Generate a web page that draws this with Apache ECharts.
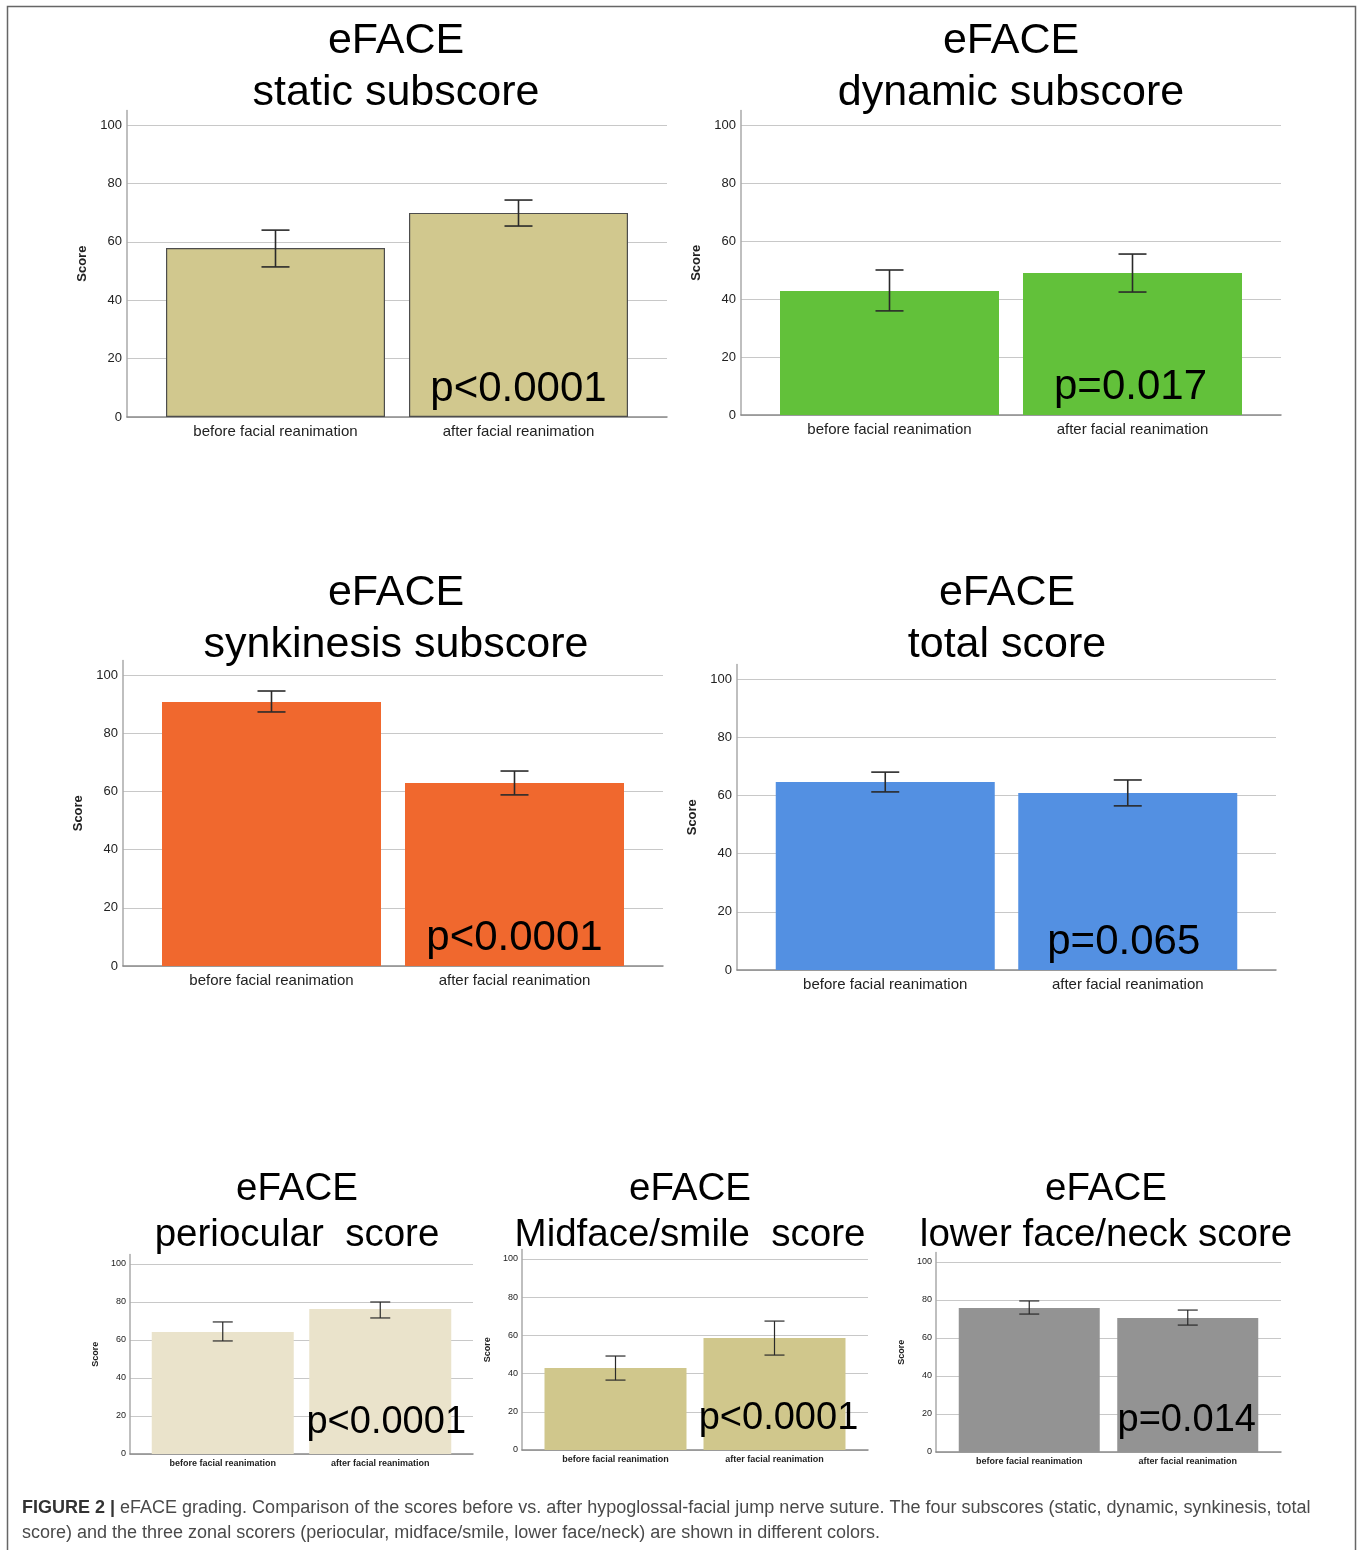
<!DOCTYPE html>
<html>
<head>
<meta charset="utf-8">
<script src="https://cdn.jsdelivr.net/npm/echarts@6/dist/echarts.min.js"></script>
<style>
html,body{margin:0;padding:0;background:#fff;}
#chart{width:1357px;height:1550px;}
</style>
</head>
<body>
<div id="chart"></div>
<script>
// ---------- data ----------
const categories = ['before facial reanimation', 'after facial reanimation'];
const yTicks = [0, 20, 40, 60, 80, 100];

const panelTitles = [
  ['eFACE', 'static subscore'],
  ['eFACE', 'dynamic subscore'],
  ['eFACE', 'synkinesis subscore'],
  ['eFACE', 'total score'],
  ['eFACE', 'periocular  score'],
  ['eFACE', 'Midface/smile  score'],
  ['eFACE', 'lower face/neck score']
];
const pValues = ['p<0.0001', 'p=0.017', 'p<0.0001', 'p=0.065', 'p<0.0001', 'p<0.0001', 'p=0.014'];

// mean score [before, after]
const staticMean = [57.9, 69.9];
const dynamicMean = [42.8, 49.0];
const synkinesisMean = [90.7, 62.9];
const totalMean = [64.6, 60.8];
const periocularMean = [64.2, 76.3];
const midfaceMean = [42.9, 58.6];
const lowerMean = [75.8, 70.5];

// error bar [low, high] per category
const staticErr = [[51.4, 64.0], [65.4, 74.3]];
const dynamicErr = [[35.9, 50.0], [42.4, 55.5]];
const synkinesisErr = [[87.3, 94.5], [58.8, 67.0]];
const totalErr = [[61.2, 68.0], [56.4, 65.3]];
const periocularErr = [[59.5, 69.5], [71.6, 80.0]];
const midfaceErr = [[36.6, 49.2], [49.7, 67.5]];
const lowerErr = [[72.6, 79.5], [66.8, 74.7]];

const means = [staticMean, dynamicMean, synkinesisMean, totalMean, periocularMean, midfaceMean, lowerMean];
const errs = [staticErr, dynamicErr, synkinesisErr, totalErr, periocularErr, midfaceErr, lowerErr];

// ---------- layout / style ----------
const colors = ['#D1C88E', '#62C13A', '#F0682E', '#5390E2', '#EAE3CB', '#D0C78C', '#939393'];
const borders = [true, false, false, false, false, false, false];
const geo = [
  {l:127, r:667, y0:417, y100:125, bw:219, off:13.5, small:false, tx:396, ty:41.5, px:0},
  {l:741, r:1281, y0:415, y100:125, bw:219, off:13.5, small:false, tx:1011, ty:41.5, px:-2},
  {l:123, r:663, y0:966, y100:675, bw:219, off:13.5, small:false, tx:396, ty:593.5, px:0},
  {l:737, r:1276, y0:970, y100:679, bw:219, off:13.5, small:false, tx:1007, ty:593.5, px:-4},
  {l:130, r:473, y0:1454, y100:1264, bw:142, off:7, small:true, tx:297, ty:1189, px:6},
  {l:522, r:868, y0:1450, y100:1259, bw:142, off:7, small:true, tx:690, ty:1189, px:4},
  {l:936, r:1281, y0:1452, y100:1262, bw:141, off:7, small:true, tx:1106, ty:1189, px:-1}
];
const W = 1357, H = 1550;
const FONT = '"Liberation Sans", Arial, Helvetica, sans-serif';

const grids = [], xAxes = [], yAxes = [], series = [], titles = [];

geo.forEach((g, i) => {
  const unit = (g.y0 - g.y100) / 100;
  const top = g.y0 - 105 * unit;
  grids.push({left: g.l, width: g.r - g.l, top: top, height: g.y0 - top, containLabel: false});
  const band = (g.r - g.l) / 2;
  const small = g.small;
  const xfs = small ? 9 : 15;
  const xw = small ? 'bold' : 'normal';
  xAxes.push({
    type: 'category', gridIndex: i, data: categories,
    axisLine: {lineStyle: {color: '#8a8a8a', width: 1.5}},
    axisTick: {show: false},
    axisLabel: {
      color: '#222', fontFamily: FONT, fontSize: xfs, margin: small ? 5 : 7, fontWeight: xw,
      formatter: (v, idx) => (idx === 0 ? '{b|' + v + '}' : '{a|' + v + '}'),
      rich: {
        b: {padding: [0, 0, 0, 2 * g.off], fontSize: xfs, fontFamily: FONT, color: '#222', fontWeight: xw},
        a: {padding: [0, 2 * g.off, 0, 0], fontSize: xfs, fontFamily: FONT, color: '#222', fontWeight: xw}
      }
    }
  });
  yAxes.push({
    type: 'value', gridIndex: i, min: 0, max: 105, interval: 20,
    name: 'Score', nameLocation: 'middle', nameRotate: 90,
    nameGap: small ? 30 : 38,
    nameTextStyle: {fontFamily: FONT, fontWeight: 'bold', fontSize: small ? 9 : 13, color: '#222'},
    axisLine: {show: true, lineStyle: {color: '#aaa', width: 1.5}},
    axisTick: {show: false},
    axisLabel: {color: '#222', fontFamily: FONT, fontSize: small ? 9 : 13, margin: small ? 4 : 5,
      showMaxLabel: false,
      formatter: v => (yTicks.indexOf(v) >= 0 ? String(v) : '')},
    splitLine: {show: true, showMaxLine: false, lineStyle: {color: '#c8c8c8', width: 1.2}}
  });
  const m = means[i];
  const bw = g.bw;
  const gapPct = ((2 * g.off - bw) / bw * 100).toFixed(2) + '%';
  const itemStyle = {color: colors[i]};
  if (borders[i]) { itemStyle.borderColor = '#4d4d4d'; itemStyle.borderWidth = 1.2; }
  const pfs = small ? 38 : 42;
  series.push({
    type: 'bar', xAxisIndex: i, yAxisIndex: i, barWidth: bw, barGap: gapPct,
    itemStyle: itemStyle, silent: true,
    data: ['-', {value: m[1], label: {show: true, position: 'insideBottom', distance: small ? 12 : 7,
      offset: [g.px, 0],
      formatter: pValues[i], fontFamily: FONT, fontSize: pfs, color: '#000'}}]
  });
  series.push({
    type: 'bar', xAxisIndex: i, yAxisIndex: i, barWidth: bw, barGap: gapPct,
    itemStyle: itemStyle, silent: true,
    data: [m[0], '-']
  });
  const e = errs[i];
  const offFrac = g.off / band;
  const capHalf = small ? 10 : 14;
  series.push({
    type: 'custom', xAxisIndex: i, yAxisIndex: i, silent: true, z: 10,
    data: [[0, e[0][0], e[0][1]], [1, e[1][0], e[1][1]]],
    renderItem: function (params, api) {
      const idx = api.value(0);
      const lo = api.coord([idx, api.value(1)]);
      const hi = api.coord([idx, api.value(2)]);
      const bandW = api.size([1, 0])[0];
      const x = lo[0] + (idx === 0 ? 1 : -1) * offFrac * bandW;
      const st = {stroke: '#2a2a2a', lineWidth: small ? 1.2 : 1.6};
      return {type: 'group', children: [
        {type: 'line', shape: {x1: x, y1: lo[1], x2: x, y2: hi[1]}, style: st},
        {type: 'line', shape: {x1: x - capHalf, y1: lo[1], x2: x + capHalf, y2: lo[1]}, style: st},
        {type: 'line', shape: {x1: x - capHalf, y1: hi[1], x2: x + capHalf, y2: hi[1]}, style: st}
      ]};
    }
  });
  const tfs = small ? 38.5 : 43;
  const lh = small ? 46 : 52;
  titles.push({
    text: panelTitles[i].join('\n'), left: g.tx, top: g.ty - lh / 2, textAlign: 'center', padding: 0,
    textStyle: {fontFamily: FONT, fontSize: tfs, fontWeight: 'normal', color: '#000', lineHeight: lh}
  });
});

const chart = echarts.init(document.getElementById('chart'), null, {renderer: 'canvas'});
chart.setOption({
  animation: false,
  backgroundColor: '#fff',
  title: titles,
  grid: grids,
  xAxis: xAxes,
  yAxis: yAxes,
  series: series,
  graphic: [
    {type: 'polyline', shape: {points: [[7.5, H + 5], [7.5, 6.5], [1355.5, 6.5], [1355.5, H + 5]]},
      style: {stroke: '#666', lineWidth: 1.5, fill: null}, silent: true},
    {type: 'text', left: 22, top: 1496, silent: true,
      style: {
        text: '{b|FIGURE 2 |} eFACE grading. Comparison of the scores before vs. after hypoglossal-facial jump nerve suture. The four subscores (static, dynamic, synkinesis, total\nscore) and the three zonal scorers (periocular, midface/smile, lower face/neck) are shown in different colors.',
        fontFamily: FONT, fontSize: 18, fill: '#4a4a4a', lineHeight: 25,
        rich: {b: {fontFamily: FONT, fontSize: 18, fontWeight: 'bold', fill: '#333', lineHeight: 25}}
      }}
  ]
});
</script>
</body>
</html>
